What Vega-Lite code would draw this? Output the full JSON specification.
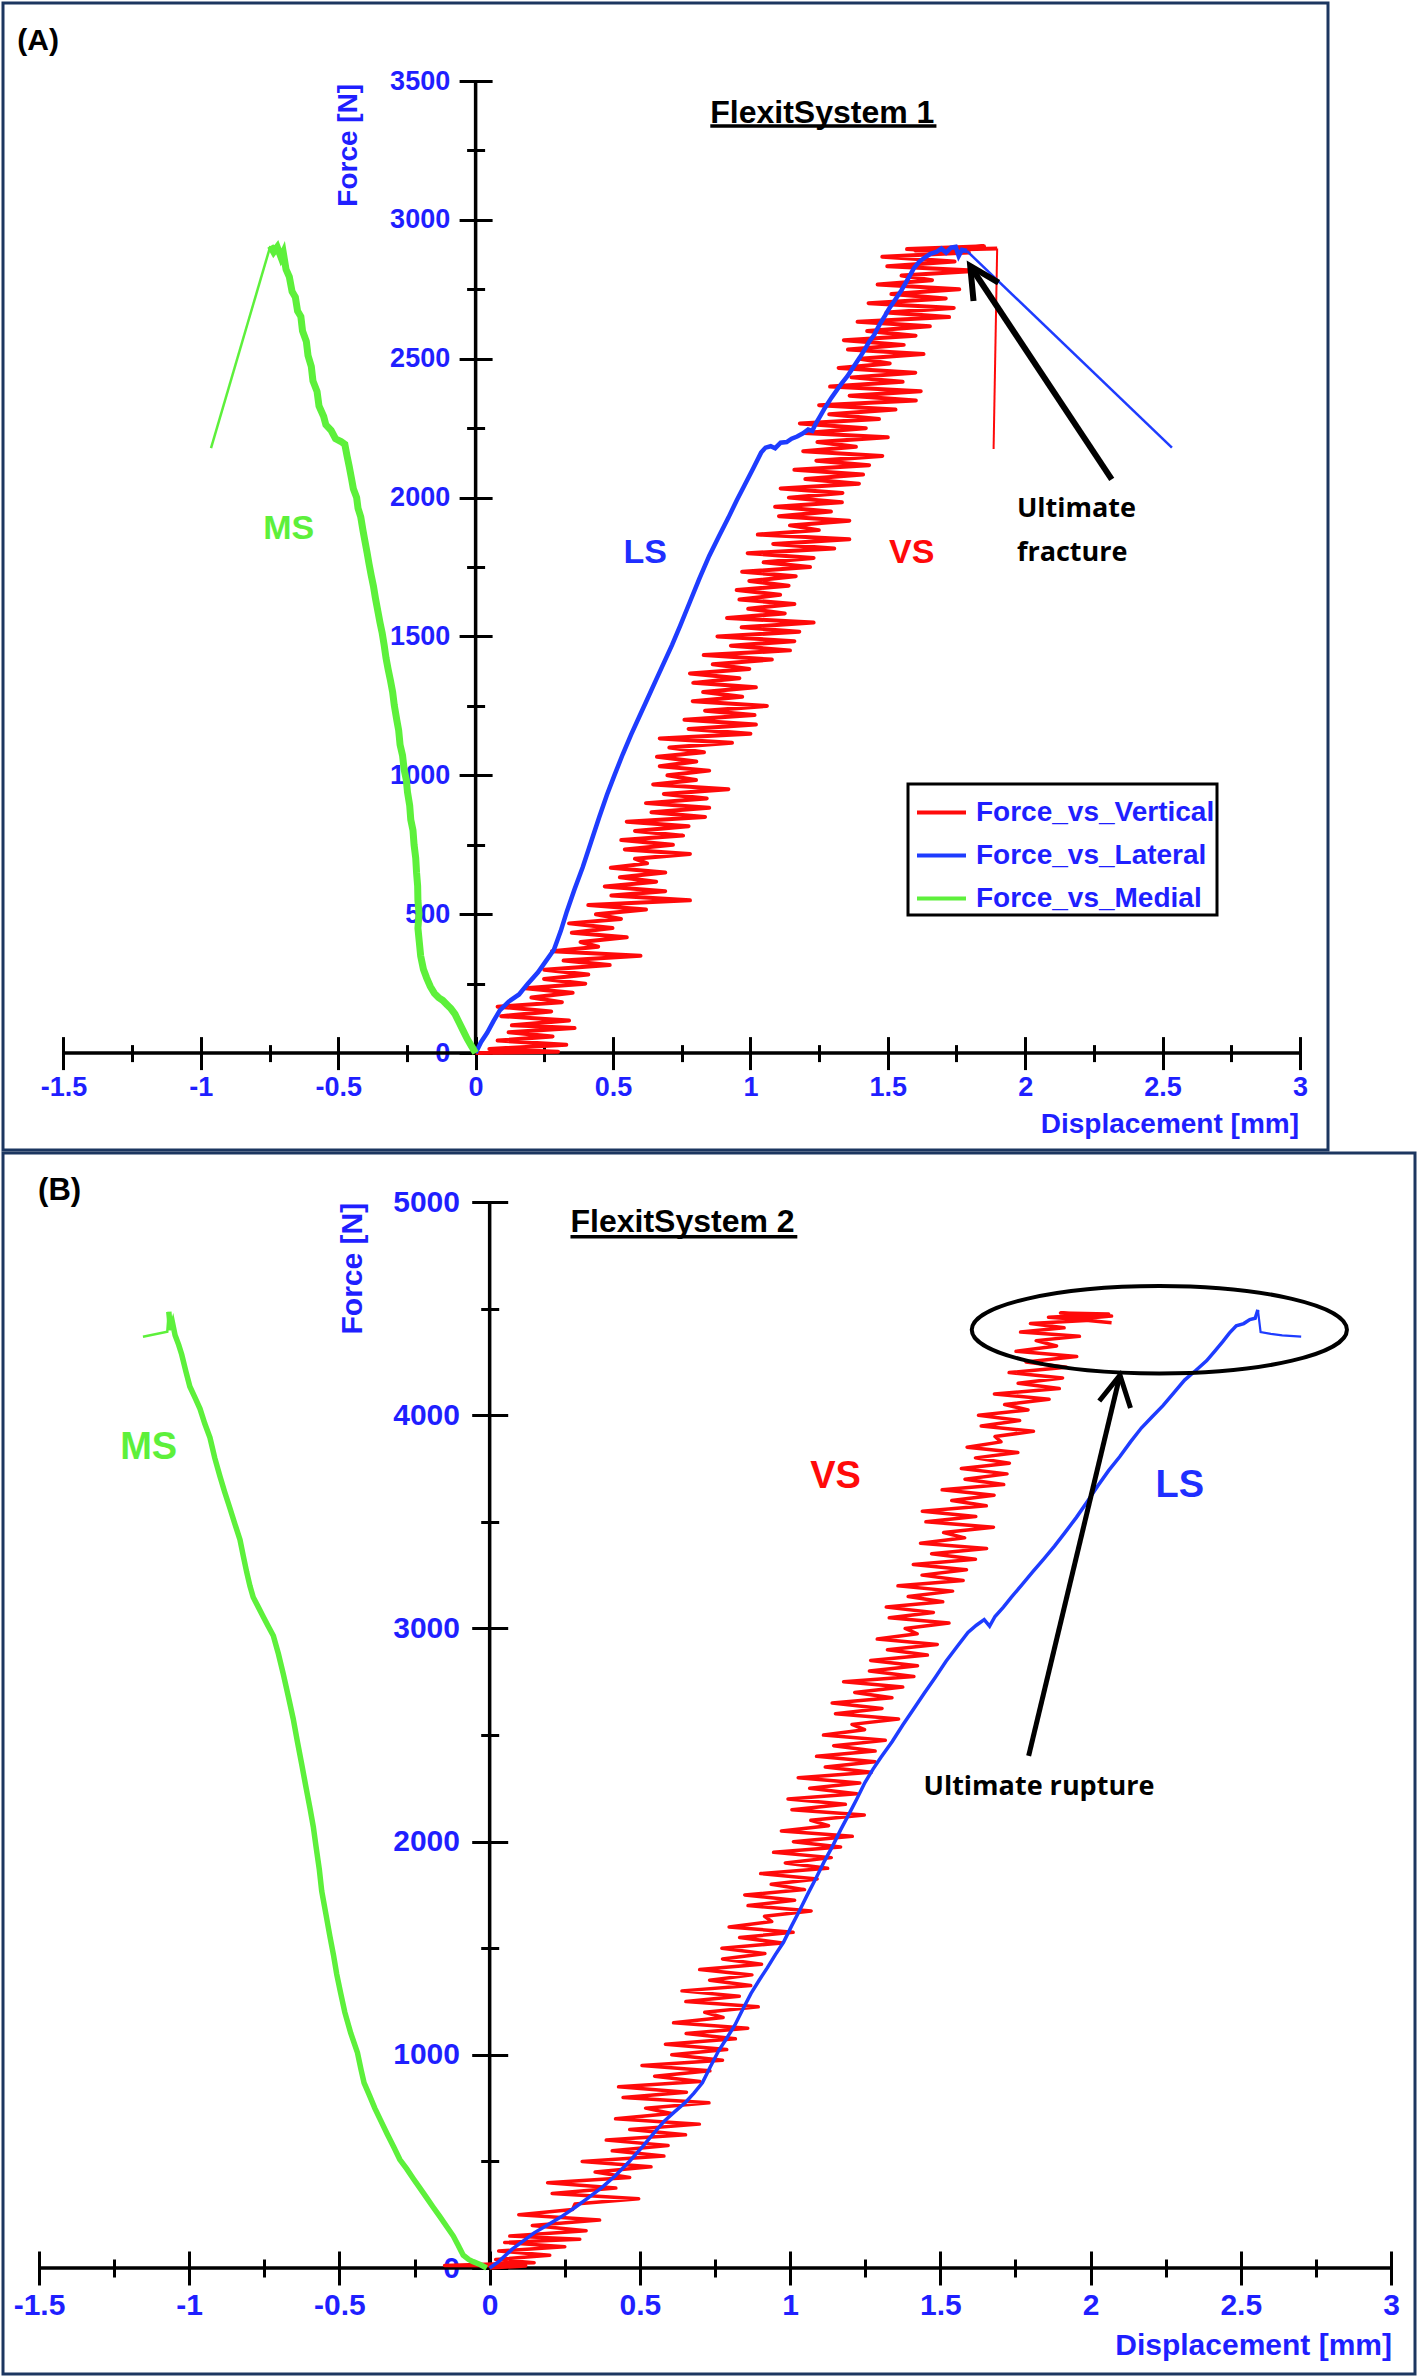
{
"$schema": "https://vega.github.io/schema/vega-lite/v6.json",
"background": "white",
"padding": {"left": 1, "top": 1, "right": 1, "bottom": 1},
"spacing": 3,
"bounds": "flush",
"config": {
  "view": {"stroke": "#1c3660", "strokeWidth": 3},
  "axis": {"grid": false, "domain": false, "tickColor": "black", "tickWidth": 3, "labelFont": "Liberation Sans", "labelFontWeight": "bold", "labelColor": "#1f1fff", "titleFont": "Liberation Sans", "titleFontWeight": "bold", "titleColor": "#1f1fff", "labelFlush": false, "labelOverlap": false, "labelBound": false},
  "legend": {"strokeWidth": 3}
},
"datasets": {
  "vsA": [
    {"disp":0,"force":0},{"disp":0.3,"force":5},{"disp":0.05,"force":15},{"disp":0.33,"force":30},{"disp":0.08,"force":45},{"disp":0.28,"force":60},{"disp":0.12,"force":75},{"disp":0.36,"force":90},
    {"disp":0.132,"force":100},{"disp":0.34,"force":117},{"disp":0.093,"force":133},{"disp":0.275,"force":150},{"disp":0.08,"force":167},{"disp":0.314,"force":183},
    {"disp":0.203,"force":200},{"disp":0.353,"force":217},{"disp":0.18,"force":233},{"disp":0.399,"force":250},{"disp":0.249,"force":267},{"disp":0.41,"force":283},
    {"disp":0.25,"force":300},{"disp":0.488,"force":317},{"disp":0.32,"force":333},{"disp":0.6,"force":350},{"disp":0.278,"force":367},{"disp":0.446,"force":383},
    {"disp":0.382,"force":400},{"disp":0.55,"force":417},{"disp":0.35,"force":433},{"disp":0.498,"force":450},{"disp":0.34,"force":467},{"disp":0.529,"force":483},
    {"disp":0.438,"force":500},{"disp":0.62,"force":517},{"disp":0.41,"force":533},{"disp":0.78,"force":550},{"disp":0.494,"force":567},{"disp":0.69,"force":583},
    {"disp":0.47,"force":600},{"disp":0.657,"force":617},{"disp":0.525,"force":633},{"disp":0.69,"force":650},{"disp":0.492,"force":667},{"disp":0.624,"force":683},
    {"disp":0.58,"force":700},{"disp":0.78,"force":717},{"disp":0.543,"force":733},{"disp":0.718,"force":750},{"disp":0.53,"force":767},{"disp":0.755,"force":783},
    {"disp":0.58,"force":800},{"disp":0.775,"force":817},{"disp":0.55,"force":833},{"disp":0.835,"force":850},{"disp":0.64,"force":867},{"disp":0.85,"force":883},
    {"disp":0.62,"force":900},{"disp":0.841,"force":917},{"disp":0.685,"force":933},{"disp":0.92,"force":950},{"disp":0.646,"force":967},{"disp":0.802,"force":983},
    {"disp":0.698,"force":1000},{"disp":0.85,"force":1017},{"disp":0.67,"force":1033},{"disp":0.803,"force":1050},{"disp":0.66,"force":1067},{"disp":0.831,"force":1083},
    {"disp":0.705,"force":1100},{"disp":0.933,"force":1117},{"disp":0.67,"force":1133},{"disp":1.0,"force":1150},{"disp":0.775,"force":1167},{"disp":1.02,"force":1183},
    {"disp":0.76,"force":1200},{"disp":1.015,"force":1217},{"disp":0.835,"force":1233},{"disp":1.06,"force":1250},{"disp":0.79,"force":1267},{"disp":0.97,"force":1283},
    {"disp":0.828,"force":1300},{"disp":1.02,"force":1317},{"disp":0.792,"force":1333},{"disp":0.96,"force":1350},{"disp":0.78,"force":1367},{"disp":0.996,"force":1383},
    {"disp":0.863,"force":1400},{"disp":1.078,"force":1417},{"disp":0.83,"force":1433},{"disp":1.144,"force":1450},{"disp":0.929,"force":1467},{"disp":1.16,"force":1483},
    {"disp":0.88,"force":1500},{"disp":1.178,"force":1517},{"disp":0.968,"force":1533},{"disp":1.23,"force":1550},{"disp":0.915,"force":1567},{"disp":1.125,"force":1583},
    {"disp":0.992,"force":1600},{"disp":1.16,"force":1617},{"disp":0.96,"force":1633},{"disp":1.108,"force":1650},{"disp":0.95,"force":1667},{"disp":1.139,"force":1683},
    {"disp":0.996,"force":1700},{"disp":1.165,"force":1717},{"disp":0.97,"force":1733},{"disp":1.217,"force":1750},{"disp":1.048,"force":1767},{"disp":1.23,"force":1783},
    {"disp":0.99,"force":1800},{"disp":1.305,"force":1817},{"disp":1.083,"force":1833},{"disp":1.36,"force":1850},{"disp":1.027,"force":1867},{"disp":1.249,"force":1883},
    {"disp":1.144,"force":1900},{"disp":1.36,"force":1917},{"disp":1.104,"force":1933},{"disp":1.293,"force":1950},{"disp":1.09,"force":1967},{"disp":1.333,"force":1983},
    {"disp":1.14,"force":2000},{"disp":1.335,"force":2017},{"disp":1.11,"force":2033},{"disp":1.395,"force":2050},{"disp":1.2,"force":2067},{"disp":1.41,"force":2083},
    {"disp":1.16,"force":2100},{"disp":1.432,"force":2117},{"disp":1.24,"force":2133},{"disp":1.48,"force":2150},{"disp":1.192,"force":2167},{"disp":1.384,"force":2183},
    {"disp":1.244,"force":2200},{"disp":1.5,"force":2217},{"disp":1.196,"force":2233},{"disp":1.42,"force":2250},{"disp":1.18,"force":2267},{"disp":1.468,"force":2283},
    {"disp":1.287,"force":2300},{"disp":1.528,"force":2317},{"disp":1.25,"force":2333},{"disp":1.602,"force":2350},{"disp":1.361,"force":2367},{"disp":1.62,"force":2383},
    {"disp":1.29,"force":2400},{"disp":1.554,"force":2417},{"disp":1.368,"force":2433},{"disp":1.6,"force":2450},{"disp":1.321,"force":2467},{"disp":1.507,"force":2483},
    {"disp":1.398,"force":2500},{"disp":1.63,"force":2517},{"disp":1.355,"force":2533},{"disp":1.558,"force":2550},{"disp":1.34,"force":2567},{"disp":1.601,"force":2583},
    {"disp":1.425,"force":2600},{"disp":1.653,"force":2617},{"disp":1.39,"force":2633},{"disp":1.723,"force":2650},{"disp":1.495,"force":2667},{"disp":1.74,"force":2683},
    {"disp":1.43,"force":2700},{"disp":1.711,"force":2717},{"disp":1.513,"force":2733},{"disp":1.76,"force":2750},{"disp":1.463,"force":2767},{"disp":1.661,"force":2783},
    {"disp":1.55,"force":2800},{"disp":1.83,"force":2817},{"disp":1.498,"force":2833},{"disp":1.743,"force":2850},{"disp":1.48,"force":2867},{"disp":1.795,"force":2883},
    {"disp":1.57,"force":2895},{"disp":1.85,"force":2905},{"disp":1.6,"force":2890},{"disp":1.898,"force":2897}
  ],
  "vsAdrop": [{"disp":1.898,"force":2897},{"disp":1.885,"force":2175}],
  "lsA": [
    {"disp":0,"force":0},{"disp":0.02,"force":40},{"disp":0.042,"force":73},{"disp":0.065,"force":115},{"disp":0.088,"force":154},{"disp":0.12,"force":185},{"disp":0.158,"force":211},{"disp":0.19,"force":250},{"disp":0.227,"force":291},{"disp":0.255,"force":330},{"disp":0.285,"force":372},{"disp":0.31,"force":440},{"disp":0.332,"force":510},{"disp":0.36,"force":590},{"disp":0.39,"force":670},{"disp":0.42,"force":760},{"disp":0.45,"force":850},{"disp":0.478,"force":930},{"disp":0.505,"force":1000},{"disp":0.535,"force":1075},{"disp":0.565,"force":1145},{"disp":0.595,"force":1210},{"disp":0.625,"force":1275},{"disp":0.655,"force":1340},{"disp":0.685,"force":1405},{"disp":0.715,"force":1470},{"disp":0.745,"force":1540},{"disp":0.78,"force":1625},{"disp":0.815,"force":1710},{"disp":0.85,"force":1790},{"disp":0.885,"force":1860},{"disp":0.92,"force":1928},{"disp":0.95,"force":1990},{"disp":0.98,"force":2047},{"disp":1.01,"force":2105},{"disp":1.039,"force":2162},{"disp":1.055,"force":2180},{"disp":1.074,"force":2185},{"disp":1.09,"force":2178},{"disp":1.11,"force":2198},{"disp":1.132,"force":2200},{"disp":1.15,"force":2212},{"disp":1.17,"force":2220},{"disp":1.19,"force":2231},{"disp":1.21,"force":2245},{"disp":1.225,"force":2240},{"disp":1.237,"force":2265},{"disp":1.255,"force":2295},{"disp":1.271,"force":2323},{"disp":1.295,"force":2360},{"disp":1.318,"force":2392},{"disp":1.335,"force":2415},{"disp":1.353,"force":2437},{"disp":1.375,"force":2470},{"disp":1.399,"force":2506},{"disp":1.42,"force":2540},{"disp":1.434,"force":2564},{"disp":1.45,"force":2585},{"disp":1.469,"force":2621},{"disp":1.49,"force":2655},{"disp":1.503,"force":2678},{"disp":1.525,"force":2710},{"disp":1.55,"force":2747},{"disp":1.575,"force":2790},{"disp":1.596,"force":2828},{"disp":1.615,"force":2850},{"disp":1.631,"force":2862},{"disp":1.655,"force":2878},{"disp":1.677,"force":2885},{"disp":1.695,"force":2897},{"disp":1.712,"force":2882},{"disp":1.73,"force":2900},{"disp":1.747,"force":2903},{"disp":1.758,"force":2870},{"disp":1.77,"force":2892},{"disp":1.788,"force":2888}
  ],
  "lsAtail": [{"disp":1.788,"force":2888},{"disp":2.534,"force":2180}],
  "msAstart": [{"disp":-0.963,"force":2178},{"disp":-0.747,"force":2906}],
  "msA": [
    {"disp":-0.747,"force":2906},{"disp":-0.735,"force":2885},{"disp":-0.722,"force":2902},{"disp":-0.708,"force":2865},{"disp":-0.7,"force":2882},{"disp":-0.69,"force":2822},{"disp":-0.678,"force":2795},{"disp":-0.668,"force":2742},{"disp":-0.656,"force":2722},{"disp":-0.648,"force":2672},{"disp":-0.636,"force":2652},{"disp":-0.63,"force":2600},{"disp":-0.616,"force":2562},{"disp":-0.61,"force":2512},{"disp":-0.598,"force":2472},{"disp":-0.592,"force":2420},{"disp":-0.577,"force":2382},{"disp":-0.57,"force":2330},{"disp":-0.553,"force":2292},{"disp":-0.545,"force":2262},{"disp":-0.526,"force":2242},{"disp":-0.51,"force":2212},{"disp":-0.49,"force":2202},{"disp":-0.476,"force":2192},{"disp":-0.468,"force":2150},{"disp":-0.46,"force":2112},{"disp":-0.452,"force":2070},{"disp":-0.445,"force":2032},{"disp":-0.433,"force":2000},{"disp":-0.428,"force":1962},{"disp":-0.418,"force":1930},{"disp":-0.41,"force":1882},{"disp":-0.404,"force":1850},{"disp":-0.395,"force":1802},{"disp":-0.388,"force":1762},{"disp":-0.38,"force":1720},{"disp":-0.372,"force":1682},{"disp":-0.365,"force":1640},{"disp":-0.356,"force":1592},{"disp":-0.348,"force":1550},{"disp":-0.34,"force":1512},{"disp":-0.333,"force":1470},{"disp":-0.326,"force":1422},{"disp":-0.318,"force":1380},{"disp":-0.31,"force":1342},{"disp":-0.302,"force":1300},{"disp":-0.296,"force":1252},{"disp":-0.287,"force":1200},{"disp":-0.28,"force":1162},{"disp":-0.275,"force":1110},{"disp":-0.266,"force":1072},{"disp":-0.26,"force":1020},{"disp":-0.252,"force":982},{"disp":-0.248,"force":940},{"disp":-0.24,"force":892},{"disp":-0.236,"force":840},{"disp":-0.228,"force":802},{"disp":-0.224,"force":750},{"disp":-0.218,"force":702},{"disp":-0.215,"force":650},{"disp":-0.211,"force":602},{"disp":-0.21,"force":550},{"disp":-0.206,"force":502},{"disp":-0.21,"force":450},{"disp":-0.205,"force":400},{"disp":-0.2,"force":350},{"disp":-0.19,"force":302},{"disp":-0.178,"force":270},{"disp":-0.165,"force":240},{"disp":-0.15,"force":215},{"disp":-0.135,"force":200},{"disp":-0.12,"force":190},{"disp":-0.105,"force":175},{"disp":-0.09,"force":160},{"disp":-0.075,"force":140},{"disp":-0.06,"force":110},{"disp":-0.045,"force":80},{"disp":-0.03,"force":50},{"disp":-0.015,"force":25},{"disp":0,"force":0}
  ],
  "vsB": [
    {"disp":0,"force":0},{"disp":0.12,"force":10},{"disp":-0.15,"force":12},{"disp":0.148,"force":25},{"disp":0.02,"force":40},{"disp":0.2,"force":60},{"disp":0.03,"force":80},{"disp":0.25,"force":100},{"disp":0.05,"force":120},{"disp":0.3,"force":135},
    {"disp":0.067,"force":150},{"disp":0.321,"force":175},{"disp":0.142,"force":200},{"disp":0.366,"force":225},{"disp":0.097,"force":250},{"disp":0.276,"force":275},
    {"disp":0.284,"force":300},{"disp":0.496,"force":325},{"disp":0.208,"force":350},{"disp":0.42,"force":375},{"disp":0.193,"force":400},{"disp":0.466,"force":425},
    {"disp":0.351,"force":450},{"disp":0.537,"force":475},{"disp":0.308,"force":500},{"disp":0.58,"force":525},{"disp":0.408,"force":550},{"disp":0.594,"force":575},
    {"disp":0.388,"force":600},{"disp":0.652,"force":625},{"disp":0.466,"force":650},{"disp":0.698,"force":675},{"disp":0.419,"force":700},{"disp":0.605,"force":725},
    {"disp":0.519,"force":750},{"disp":0.73,"force":775},{"disp":0.444,"force":800},{"disp":0.655,"force":825},{"disp":0.429,"force":850},{"disp":0.7,"force":875},
    {"disp":0.549,"force":900},{"disp":0.733,"force":925},{"disp":0.507,"force":950},{"disp":0.775,"force":975},{"disp":0.606,"force":1000},{"disp":0.789,"force":1025},
    {"disp":0.585,"force":1050},{"disp":0.818,"force":1075},{"disp":0.654,"force":1100},{"disp":0.859,"force":1125},{"disp":0.612,"force":1150},{"disp":0.777,"force":1175},
    {"disp":0.716,"force":1200},{"disp":0.894,"force":1225},{"disp":0.653,"force":1250},{"disp":0.831,"force":1275},{"disp":0.64,"force":1300},{"disp":0.869,"force":1325},
    {"disp":0.732,"force":1350},{"disp":0.873,"force":1375},{"disp":0.699,"force":1400},{"disp":0.905,"force":1425},{"disp":0.775,"force":1450},{"disp":0.916,"force":1475},
    {"disp":0.773,"force":1500},{"disp":0.974,"force":1525},{"disp":0.832,"force":1550},{"disp":1.01,"force":1575},{"disp":0.797,"force":1600},{"disp":0.939,"force":1625},
    {"disp":0.915,"force":1650},{"disp":1.07,"force":1675},{"disp":0.86,"force":1700},{"disp":1.015,"force":1725},{"disp":0.849,"force":1750},{"disp":1.048,"force":1775},
    {"disp":0.937,"force":1800},{"disp":1.09,"force":1825},{"disp":0.902,"force":1850},{"disp":1.125,"force":1875},{"disp":0.984,"force":1900},{"disp":1.137,"force":1925},
    {"disp":0.945,"force":1950},{"disp":1.168,"force":1975},{"disp":1.011,"force":2000},{"disp":1.207,"force":2025},{"disp":0.971,"force":2050},{"disp":1.128,"force":2075},
    {"disp":1.069,"force":2100},{"disp":1.247,"force":2125},{"disp":1.006,"force":2150},{"disp":1.184,"force":2175},{"disp":0.993,"force":2200},{"disp":1.222,"force":2225},
    {"disp":1.065,"force":2250},{"disp":1.232,"force":2275},{"disp":1.027,"force":2300},{"disp":1.27,"force":2325},{"disp":1.117,"force":2350},{"disp":1.283,"force":2375},
    {"disp":1.088,"force":2400},{"disp":1.283,"force":2425},{"disp":1.145,"force":2450},{"disp":1.317,"force":2475},{"disp":1.111,"force":2500},{"disp":1.248,"force":2525},
    {"disp":1.206,"force":2550},{"disp":1.361,"force":2575},{"disp":1.151,"force":2600},{"disp":1.306,"force":2625},{"disp":1.14,"force":2650},{"disp":1.339,"force":2675},
    {"disp":1.215,"force":2700},{"disp":1.375,"force":2725},{"disp":1.178,"force":2750},{"disp":1.412,"force":2775},{"disp":1.264,"force":2800},{"disp":1.424,"force":2825},
    {"disp":1.268,"force":2850},{"disp":1.457,"force":2875},{"disp":1.324,"force":2900},{"disp":1.49,"force":2925},{"disp":1.29,"force":2950},{"disp":1.423,"force":2975},
    {"disp":1.383,"force":3000},{"disp":1.529,"force":3025},{"disp":1.33,"force":3050},{"disp":1.477,"force":3075},{"disp":1.32,"force":3100},{"disp":1.508,"force":3125},
    {"disp":1.393,"force":3150},{"disp":1.541,"force":3175},{"disp":1.359,"force":3200},{"disp":1.576,"force":3225},{"disp":1.439,"force":3250},{"disp":1.587,"force":3275},
    {"disp":1.41,"force":3300},{"disp":1.617,"force":3325},{"disp":1.471,"force":3350},{"disp":1.654,"force":3375},{"disp":1.434,"force":3400},{"disp":1.581,"force":3425},
    {"disp":1.511,"force":3450},{"disp":1.677,"force":3475},{"disp":1.452,"force":3500},{"disp":1.618,"force":3525},{"disp":1.44,"force":3550},{"disp":1.653,"force":3575},
    {"disp":1.538,"force":3600},{"disp":1.679,"force":3625},{"disp":1.506,"force":3650},{"disp":1.711,"force":3675},{"disp":1.582,"force":3700},{"disp":1.722,"force":3725},
    {"disp":1.57,"force":3750},{"disp":1.73,"force":3775},{"disp":1.617,"force":3800},{"disp":1.758,"force":3825},{"disp":1.589,"force":3850},{"disp":1.702,"force":3875},
    {"disp":1.682,"force":3900},{"disp":1.81,"force":3925},{"disp":1.636,"force":3950},{"disp":1.764,"force":3975},{"disp":1.627,"force":4000},{"disp":1.792,"force":4025},
    {"disp":1.714,"force":4050},{"disp":1.862,"force":4075},{"disp":1.68,"force":4100},{"disp":1.896,"force":4125},{"disp":1.759,"force":4150},{"disp":1.907,"force":4175},
    {"disp":1.729,"force":4200},{"disp":1.92,"force":4225},{"disp":1.785,"force":4250},{"disp":1.954,"force":4275},{"disp":1.752,"force":4300},{"disp":1.887,"force":4325},
    {"disp":1.819,"force":4350},{"disp":1.963,"force":4370},{"disp":1.767,"force":4390},{"disp":1.912,"force":4410},{"disp":1.8,"force":4430},{"disp":2.0,"force":4445},
    {"disp":1.86,"force":4460},{"disp":2.06,"force":4475},{"disp":1.9,"force":4480},{"disp":2.07,"force":4465},{"disp":1.95,"force":4450},{"disp":2.07,"force":4434}
  ],
  "lsB": [
    {"disp":0,"force":0},{"disp":0.03,"force":30},{"disp":0.076,"force":90},{"disp":0.11,"force":125},{"disp":0.148,"force":165},{"disp":0.19,"force":200},{"disp":0.238,"force":240},{"disp":0.285,"force":285},{"disp":0.329,"force":330},{"disp":0.375,"force":380},{"disp":0.419,"force":434},{"disp":0.465,"force":500},{"disp":0.509,"force":569},{"disp":0.545,"force":630},{"disp":0.581,"force":689},{"disp":0.617,"force":735},{"disp":0.653,"force":779},{"disp":0.68,"force":820},{"disp":0.708,"force":869},{"disp":0.735,"force":945},{"disp":0.762,"force":1019},{"disp":0.79,"force":1080},{"disp":0.816,"force":1139},{"disp":0.843,"force":1215},{"disp":0.87,"force":1288},{"disp":0.897,"force":1350},{"disp":0.924,"force":1408},{"disp":0.951,"force":1470},{"disp":0.978,"force":1528},{"disp":1.005,"force":1605},{"disp":1.032,"force":1678},{"disp":1.059,"force":1755},{"disp":1.086,"force":1828},{"disp":1.113,"force":1905},{"disp":1.141,"force":1978},{"disp":1.168,"force":2055},{"disp":1.195,"force":2127},{"disp":1.222,"force":2200},{"disp":1.249,"force":2277},{"disp":1.276,"force":2340},{"disp":1.303,"force":2397},{"disp":1.34,"force":2470},{"disp":1.375,"force":2547},{"disp":1.41,"force":2620},{"disp":1.447,"force":2697},{"disp":1.483,"force":2770},{"disp":1.519,"force":2846},{"disp":1.556,"force":2915},{"disp":1.592,"force":2981},{"disp":1.62,"force":3015},{"disp":1.646,"force":3041},{"disp":1.664,"force":3011},{"disp":1.682,"force":3056},{"disp":1.71,"force":3100},{"disp":1.736,"force":3146},{"disp":1.772,"force":3205},{"disp":1.808,"force":3266},{"disp":1.844,"force":3325},{"disp":1.88,"force":3386},{"disp":1.916,"force":3452},{"disp":1.953,"force":3521},{"disp":1.99,"force":3597},{"disp":2.025,"force":3670},{"disp":2.06,"force":3740},{"disp":2.097,"force":3805},{"disp":2.133,"force":3875},{"disp":2.169,"force":3940},{"disp":2.205,"force":3993},{"disp":2.241,"force":4045},{"disp":2.277,"force":4105},{"disp":2.313,"force":4165},{"disp":2.35,"force":4210},{"disp":2.386,"force":4255},{"disp":2.413,"force":4300},{"disp":2.44,"force":4345},{"disp":2.462,"force":4385},{"disp":2.485,"force":4420},{"disp":2.51,"force":4430},{"disp":2.53,"force":4449},{"disp":2.548,"force":4455},{"disp":2.557,"force":4494}
  ],
  "lsBtail": [{"disp":2.557,"force":4494},{"disp":2.566,"force":4390},{"disp":2.6,"force":4382},{"disp":2.638,"force":4375},{"disp":2.701,"force":4369}],
  "msBstart": [{"disp":-1.154,"force":4368},{"disp":-1.073,"force":4392},{"disp":-1.068,"force":4485}],
  "msB": [
    {"disp":-1.068,"force":4485},{"disp":-1.062,"force":4400},{"disp":-1.055,"force":4430},{"disp":-1.047,"force":4375},{"disp":-1.035,"force":4330},{"disp":-1.025,"force":4285},{"disp":-1.012,"force":4210},{"disp":-0.998,"force":4135},{"disp":-0.98,"force":4080},{"disp":-0.964,"force":4030},{"disp":-0.948,"force":3960},{"disp":-0.931,"force":3895},{"disp":-0.915,"force":3800},{"disp":-0.898,"force":3715},{"disp":-0.882,"force":3640},{"disp":-0.865,"force":3566},{"disp":-0.848,"force":3490},{"disp":-0.831,"force":3416},{"disp":-0.82,"force":3340},{"disp":-0.809,"force":3266},{"disp":-0.798,"force":3200},{"disp":-0.787,"force":3146},{"disp":-0.77,"force":3100},{"disp":-0.754,"force":3056},{"disp":-0.737,"force":3010},{"disp":-0.72,"force":2966},{"disp":-0.703,"force":2880},{"disp":-0.687,"force":2787},{"disp":-0.67,"force":2680},{"disp":-0.654,"force":2577},{"disp":-0.64,"force":2470},{"disp":-0.626,"force":2367},{"disp":-0.612,"force":2260},{"disp":-0.598,"force":2157},{"disp":-0.587,"force":2070},{"disp":-0.578,"force":1978},{"disp":-0.567,"force":1870},{"disp":-0.559,"force":1768},{"disp":-0.545,"force":1660},{"disp":-0.532,"force":1558},{"disp":-0.52,"force":1470},{"disp":-0.509,"force":1378},{"disp":-0.496,"force":1290},{"disp":-0.482,"force":1199},{"disp":-0.462,"force":1100},{"disp":-0.44,"force":1010},{"disp":-0.428,"force":930},{"disp":-0.418,"force":869},{"disp":-0.4,"force":810},{"disp":-0.382,"force":749},{"disp":-0.362,"force":690},{"disp":-0.341,"force":629},{"disp":-0.32,"force":570},{"disp":-0.299,"force":509},{"disp":-0.276,"force":465},{"disp":-0.254,"force":419},{"disp":-0.232,"force":375},{"disp":-0.21,"force":330},{"disp":-0.188,"force":285},{"disp":-0.165,"force":240},{"disp":-0.143,"force":195},{"disp":-0.121,"force":150},{"disp":-0.104,"force":105},{"disp":-0.088,"force":60},{"disp":-0.07,"force":40},{"disp":-0.055,"force":30},{"disp":-0.03,"force":15},{"disp":-0.01,"force":0}
  ],
  "arrowA": [
    {"part":"shaft","disp":2.315,"force":2066},{"part":"shaft","disp":1.8,"force":2834},
    {"part":"head","disp":1.812,"force":2708},{"part":"head","disp":1.8,"force":2834},{"part":"head","disp":1.903,"force":2774}
  ],
  "arrowB": [
    {"part":"shaft","disp":1.794,"force":2402},{"part":"shaft","disp":2.098,"force":4188},
    {"part":"head","disp":2.029,"force":4067},{"part":"head","disp":2.098,"force":4188},{"part":"head","disp":2.133,"force":4034}
  ],
  "labelsA": [
    {"label":"MS","disp":-0.68,"force":1851},{"label":"LS","disp":0.617,"force":1765},{"label":"VS","disp":1.587,"force":1764}
  ],
  "labelsB": [
    {"label":"MS","disp":-1.135,"force":3793},{"label":"VS","disp":1.151,"force":3658},{"label":"LS","disp":2.297,"force":3617}
  ]
},
"vconcat": [
  {
    "width": 1325,
    "height": 1147,
    "resolve": {"axis": {"x": "independent", "y": "independent"}},
    "layer": [
      {"data": {"values": [{}]}, "mark": {"type": "rule", "color": "black", "strokeWidth": 3.5},
       "encoding": {"x": {"datum": -1.5, "type": "quantitative", "axis": null}, "x2": {"datum": 3}, "y": {"datum": 0, "type": "quantitative", "axis": null}}},
      {"data": {"values": [{}]}, "mark": {"type": "rule", "color": "black", "strokeWidth": 3.5},
       "encoding": {"x": {"datum": 0, "type": "quantitative", "axis": null}, "y": {"datum": 0, "type": "quantitative", "axis": null}, "y2": {"datum": 3500}}},
      {"data": {"name": "vsA"}, "mark": {"type": "line", "strokeWidth": 4, "strokeJoin": "round"},
       "encoding": {
         "x": {"field": "disp", "type": "quantitative", "scale": {"domain": [-1.72, 3.102], "nice": false, "zero": false},
               "axis": {"orient": "bottom", "offset": -113.4, "values": [-1.5,-1,-0.5,0,0.5,1,1.5,2,2.5,3], "tickSize": 33, "labelPadding": 4.5, "labelFontSize": 27, "labelExpr": "'' + datum.value", "title": "Displacement [mm]", "titleFontSize": 28, "titleX": 1295.5, "titleY": 95.4, "titleAlign": "right", "titleBaseline": "alphabetic"}},
         "y": {"field": "force", "type": "quantitative", "scale": {"domain": [-349, 3781], "nice": false, "zero": false},
               "axis": {"orient": "left", "offset": -489.1, "values": [0,500,1000,1500,2000,2500,3000,3500], "tickSize": 33, "labelPadding": 9.4, "labelFontSize": 27, "labelExpr": "'' + datum.value", "title": "Force [N]", "titleFontSize": 28, "titleAngle": 270, "titleX": -135.6, "titleY": 80.3, "titleAlign": "right", "titleBaseline": "alphabetic"}},
         "color": {"datum": "Force_vs_Vertical", "type": "nominal",
                   "scale": {"domain": ["Force_vs_Vertical", "Force_vs_Lateral", "Force_vs_Medial"], "range": ["#ff0a0a", "#1e3cff", "#5df03b"]},
                   "legend": {"orient": "none", "legendX": 905, "legendY": 781, "title": null, "direction": "vertical", "symbolType": "stroke", "symbolSize": 2401, "symbolStrokeWidth": 4, "symbolOffset": 5, "labelFont": "Liberation Sans", "labelFontWeight": "bold", "labelFontSize": 28, "labelColor": "#1f1fff", "labelOffset": 8, "labelLimit": 500, "rowPadding": 2, "padding": 2, "strokeColor": "black", "labelExpr": "datum.label + '    '"}},
         "order": {"value": null}
       }},
      {"data": {"name": "vsAdrop"}, "mark": {"type": "line", "strokeWidth": 2},
       "encoding": {"x": {"field": "disp", "type": "quantitative", "axis": null}, "y": {"field": "force", "type": "quantitative", "axis": null}, "color": {"datum": "Force_vs_Vertical", "type": "nominal", "legend": null}, "order": {"value": null}}},
      {"data": {"name": "lsA"}, "mark": {"type": "line", "strokeWidth": 4.5},
       "encoding": {"x": {"field": "disp", "type": "quantitative", "axis": null}, "y": {"field": "force", "type": "quantitative", "axis": null}, "color": {"datum": "Force_vs_Lateral", "type": "nominal", "legend": null}, "order": {"value": null}}},
      {"data": {"name": "lsAtail"}, "mark": {"type": "line", "strokeWidth": 2.5},
       "encoding": {"x": {"field": "disp", "type": "quantitative", "axis": null}, "y": {"field": "force", "type": "quantitative", "axis": null}, "color": {"datum": "Force_vs_Lateral", "type": "nominal", "legend": null}, "order": {"value": null}}},
      {"data": {"name": "msAstart"}, "mark": {"type": "line", "strokeWidth": 2.5},
       "encoding": {"x": {"field": "disp", "type": "quantitative", "axis": null}, "y": {"field": "force", "type": "quantitative", "axis": null}, "color": {"datum": "Force_vs_Medial", "type": "nominal", "legend": null}, "order": {"value": null}}},
      {"data": {"name": "msA"}, "mark": {"type": "line", "strokeWidth": 7},
       "encoding": {"x": {"field": "disp", "type": "quantitative", "axis": null}, "y": {"field": "force", "type": "quantitative", "axis": null}, "color": {"datum": "Force_vs_Medial", "type": "nominal", "legend": null}, "order": {"value": null}}},
      {"data": {"name": "labelsA"}, "mark": {"type": "text", "font": "Liberation Sans", "fontWeight": "bold", "fontSize": 34, "align": "center", "baseline": "alphabetic"},
       "encoding": {
         "x": {"field": "disp", "type": "quantitative", "axis": {"orient": "bottom", "offset": -105.4, "values": [-1.25,-0.75,-0.25,0.25,0.75,1.25,1.75,2.25,2.75], "tickSize": 17, "labels": false, "title": null}},
         "y": {"field": "force", "type": "quantitative", "axis": {"orient": "left", "offset": -481.6, "values": [250,750,1250,1750,2250,2750,3250], "tickSize": 18, "labels": false, "title": null}},
         "text": {"field": "label"},
         "color": {"condition": [{"test": "datum.label === 'MS'", "value": "#5df03b"}, {"test": "datum.label === 'LS'", "value": "#1f2fff"}], "value": "#ff0a0a"}
       }},
      {"data": {"values": [{}]}, "mark": {"type": "text", "font": "Liberation Sans", "fontWeight": "bold", "fontSize": 32, "align": "left", "baseline": "alphabetic", "color": "black"},
       "encoding": {"x": {"datum": 0.854, "type": "quantitative", "axis": null}, "y": {"datum": 3350, "type": "quantitative", "axis": null}, "text": {"value": "FlexitSystem 1"}}},
      {"data": {"values": [{}]}, "mark": {"type": "rule", "color": "black", "strokeWidth": 3.5},
       "encoding": {"x": {"datum": 0.854, "type": "quantitative", "axis": null}, "x2": {"datum": 1.677}, "y": {"datum": 3338, "type": "quantitative", "axis": null}}},
      {"data": {"values": [{}]}, "mark": {"type": "text", "font": "Liberation Sans", "fontWeight": "bold", "fontSize": 30, "align": "left", "baseline": "alphabetic", "color": "black"},
       "encoding": {"x": {"datum": -1.668, "type": "quantitative", "axis": null}, "y": {"datum": 3610, "type": "quantitative", "axis": null}, "text": {"value": "(A)"}}},
      {"data": {"values": [{}]}, "mark": {"type": "text", "font": "Open Sans", "fontWeight": "bold", "fontSize": 27, "align": "left", "baseline": "alphabetic", "color": "black", "lineHeight": 44},
       "encoding": {"x": {"datum": 1.97, "type": "quantitative", "axis": null}, "y": {"datum": 1930, "type": "quantitative", "axis": null}, "text": {"value": ["Ultimate", "fracture"]}}},
      {"data": {"name": "arrowA"}, "mark": {"type": "line", "color": "black", "strokeWidth": 6, "strokeCap": "butt", "strokeJoin": "miter"},
       "encoding": {"x": {"field": "disp", "type": "quantitative", "axis": null}, "y": {"field": "force", "type": "quantitative", "axis": null}, "detail": {"field": "part"}, "order": {"value": null}}}
    ]
  },
  {
    "width": 1412,
    "height": 1221,
    "resolve": {"axis": {"x": "independent", "y": "independent"}},
    "layer": [
      {"data": {"values": [{}]}, "mark": {"type": "rule", "color": "black", "strokeWidth": 3.5},
       "encoding": {"x": {"datum": -1.5, "type": "quantitative", "axis": null}, "x2": {"datum": 3}, "y": {"datum": 0, "type": "quantitative", "axis": null}}},
      {"data": {"values": [{}]}, "mark": {"type": "rule", "color": "black", "strokeWidth": 3.5},
       "encoding": {"x": {"datum": 0, "type": "quantitative", "axis": null}, "y": {"datum": 0, "type": "quantitative", "axis": null}, "y2": {"datum": 5000}}},
      {"data": {"name": "vsB"}, "mark": {"type": "line", "strokeWidth": 3.5, "strokeJoin": "round"},
       "encoding": {
         "x": {"field": "disp", "type": "quantitative", "scale": {"domain": [-1.6198, 3.0799], "nice": false, "zero": false},
               "axis": {"orient": "bottom", "offset": -123, "values": [-1.5,-1,-0.5,0,0.5,1,1.5,2,2.5,3], "tickSize": 34, "labelPadding": 5, "labelFontSize": 30, "labelExpr": "'' + datum.value", "title": "Displacement [mm]", "titleFontSize": 30, "titleX": 1388.5, "titleY": 103.6, "titleAlign": "right", "titleBaseline": "alphabetic"}},
         "y": {"field": "force", "type": "quantitative", "scale": {"domain": [-497, 5230], "nice": false, "zero": false},
               "axis": {"orient": "left", "offset": -504.7, "values": [0,1000,2000,3000,4000,5000], "tickSize": 36, "labelPadding": 12.2, "labelFontSize": 30, "labelExpr": "'' + datum.value", "title": "Force [N]", "titleFontSize": 30, "titleAngle": 270, "titleX": -146.7, "titleY": 49.3, "titleAlign": "right", "titleBaseline": "alphabetic"}},
         "color": {"datum": "Force_vs_Vertical", "type": "nominal",
                   "scale": {"domain": ["Force_vs_Vertical", "Force_vs_Lateral", "Force_vs_Medial"], "range": ["#ff0a0a", "#1e3cff", "#5df03b"]},
                   "legend": {"orient": "none", "legendX": 959, "legendY": 820, "title": null, "direction": "vertical", "symbolType": "stroke", "symbolSize": 2500, "symbolStrokeWidth": 3, "symbolOffset": 5, "labelFont": "Liberation Sans", "labelFontWeight": "bold", "labelFontSize": 30, "labelColor": "#1f1fff", "labelOffset": 12, "labelLimit": 500, "rowPadding": 5.5, "padding": 4.5, "strokeColor": "black", "labelExpr": "datum.label + '    '"}},
         "order": {"value": null}
       }},
      {"data": {"name": "lsB"}, "mark": {"type": "line", "strokeWidth": 3.5},
       "encoding": {"x": {"field": "disp", "type": "quantitative", "axis": null}, "y": {"field": "force", "type": "quantitative", "axis": null}, "color": {"datum": "Force_vs_Lateral", "type": "nominal", "legend": null}, "order": {"value": null}}},
      {"data": {"name": "lsBtail"}, "mark": {"type": "line", "strokeWidth": 2.2},
       "encoding": {"x": {"field": "disp", "type": "quantitative", "axis": null}, "y": {"field": "force", "type": "quantitative", "axis": null}, "color": {"datum": "Force_vs_Lateral", "type": "nominal", "legend": null}, "order": {"value": null}}},
      {"data": {"name": "msBstart"}, "mark": {"type": "line", "strokeWidth": 2.5},
       "encoding": {"x": {"field": "disp", "type": "quantitative", "axis": null}, "y": {"field": "force", "type": "quantitative", "axis": null}, "color": {"datum": "Force_vs_Medial", "type": "nominal", "legend": null}, "order": {"value": null}}},
      {"data": {"name": "msB"}, "mark": {"type": "line", "strokeWidth": 5.5},
       "encoding": {"x": {"field": "disp", "type": "quantitative", "axis": null}, "y": {"field": "force", "type": "quantitative", "axis": null}, "color": {"datum": "Force_vs_Medial", "type": "nominal", "legend": null}, "order": {"value": null}}},
      {"data": {"name": "labelsB"}, "mark": {"type": "text", "font": "Liberation Sans", "fontWeight": "bold", "fontSize": 38, "align": "center", "baseline": "alphabetic"},
       "encoding": {
         "x": {"field": "disp", "type": "quantitative", "axis": {"orient": "bottom", "offset": -115, "values": [-1.25,-0.75,-0.25,0.25,0.75,1.25,1.75,2.25,2.75], "tickSize": 18, "labels": false, "title": null}},
         "y": {"field": "force", "type": "quantitative", "axis": {"orient": "left", "offset": -495.7, "values": [500,1500,2500,3500,4500], "tickSize": 18, "labels": false, "title": null}},
         "text": {"field": "label"},
         "color": {"condition": [{"test": "datum.label === 'MS'", "value": "#5df03b"}, {"test": "datum.label === 'LS'", "value": "#1f2fff"}], "value": "#ff0a0a"}
       }},
      {"data": {"values": [{}]}, "mark": {"type": "text", "font": "Liberation Sans", "fontWeight": "bold", "fontSize": 32, "align": "left", "baseline": "alphabetic", "color": "black"},
       "encoding": {"x": {"datum": 0.269, "type": "quantitative", "axis": null}, "y": {"datum": 4860, "type": "quantitative", "axis": null}, "text": {"value": "FlexitSystem 2"}}},
      {"data": {"values": [{}]}, "mark": {"type": "rule", "color": "black", "strokeWidth": 3.5},
       "encoding": {"x": {"datum": 0.269, "type": "quantitative", "axis": null}, "x2": {"datum": 1.024}, "y": {"datum": 4837, "type": "quantitative", "axis": null}}},
      {"data": {"values": [{}]}, "mark": {"type": "text", "font": "Liberation Sans", "fontWeight": "bold", "fontSize": 31, "align": "left", "baseline": "alphabetic", "color": "black"},
       "encoding": {"x": {"datum": -1.503, "type": "quantitative", "axis": null}, "y": {"datum": 5009, "type": "quantitative", "axis": null}, "text": {"value": "(B)"}}},
      {"data": {"values": [{}]}, "mark": {"type": "text", "font": "Open Sans", "fontWeight": "bold", "fontSize": 27, "align": "left", "baseline": "alphabetic", "color": "black"},
       "encoding": {"x": {"datum": 1.444, "type": "quantitative", "axis": null}, "y": {"datum": 2218, "type": "quantitative", "axis": null}, "text": {"value": "Ultimate rupture"}}},
      {"data": {"values": [{}]}, "mark": {"type": "point", "shape": "M-1,0A1,0.233,0,1,0,1,0A1,0.233,0,1,0,-1,0Z", "size": 140775, "filled": false, "stroke": "black", "strokeWidth": 4, "opacity": 1},
       "encoding": {"x": {"datum": 2.229, "type": "quantitative", "axis": null}, "y": {"datum": 4401, "type": "quantitative", "axis": null}}},
      {"data": {"name": "arrowB"}, "mark": {"type": "line", "color": "black", "strokeWidth": 5, "strokeCap": "butt", "strokeJoin": "miter"},
       "encoding": {"x": {"field": "disp", "type": "quantitative", "axis": null}, "y": {"field": "force", "type": "quantitative", "axis": null}, "detail": {"field": "part"}, "order": {"value": null}}}
    ]
  }
]
}
